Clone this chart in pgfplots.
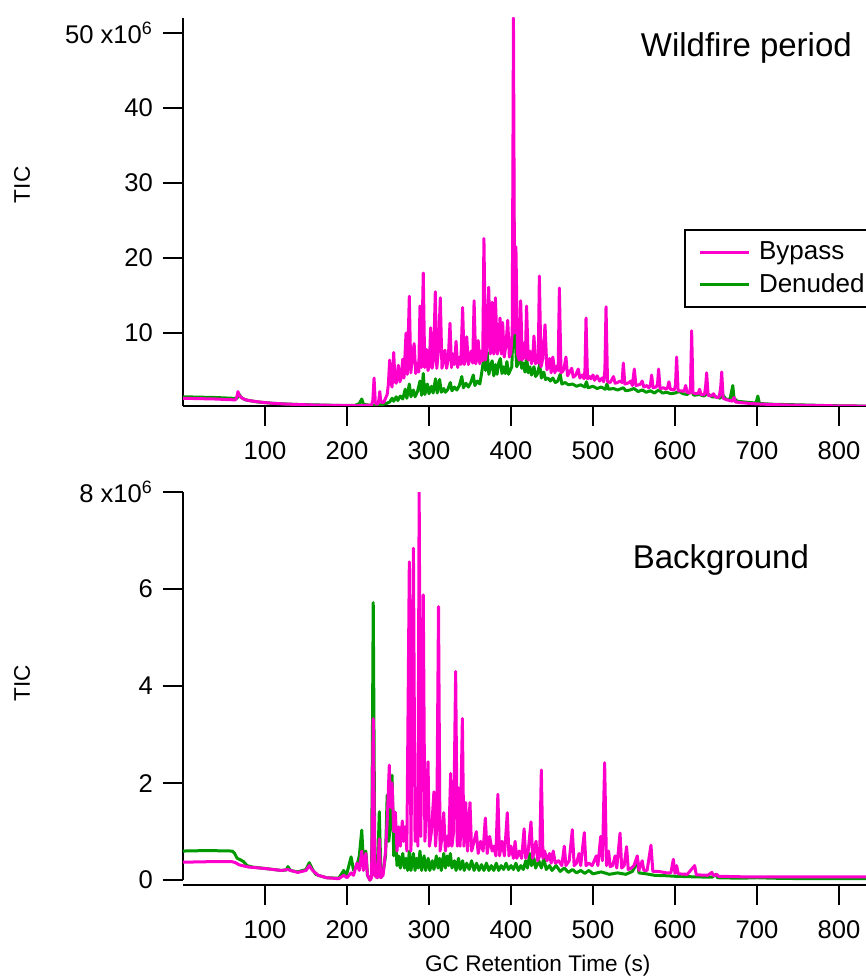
\documentclass[border=0pt]{standalone}
\usepackage{fontspec}
\setmainfont{Liberation Sans}
\usepackage{pgfplots}
\pgfplotsset{compat=1.18}

\definecolor{bypass}{RGB}{255,0,204}
\definecolor{denuded}{RGB}{0,153,0}

\pgfplotsset{
  chrom/.style={
    scale only axis, width=348.5pt,
    xmin=0, xmax=850,
    axis x line*=bottom, axis y line*=left,
    axis line style={line width=1.1pt, -},
    tick align=outside, major tick length=10pt,
    major tick style={line width=1.1pt, black},
    xtick={100,200,...,800},
    /pgf/number format/assume math mode=true,
    ticklabel style={font=\fontsize{12.8}{15}\selectfont},
    label style={font=\fontsize{11.3}{13}\selectfont},
    xticklabel style={yshift=-4.5pt},
    yticklabel style={xshift=-1.5pt},
    scaled y ticks=false,
  },
  trace/.style={line width=1.5pt, line join=round, forget plot},
}

\begin{document}
\begin{tikzpicture}

% ---------------- Wildfire period ----------------
\begin{axis}[chrom,
  at={(0,0)}, anchor=south west,
  height=194pt,
  ymin=0.27, ymax=52,
  ytick={10,20,30,40,50},
  yticklabels={10,20,30,40,{50 x10\textsuperscript{6}}},
  ylabel={TIC},
  ylabel style={at={(axis description cs:-0.231,0.57)}, anchor=center},
  legend cell align=left,
  legend image code/.code={\path[draw=none] (-4.5pt,0pt) (27.5pt,0pt);
    \draw[#1] (0pt,0pt) -- (24.5pt,0pt);},
  legend style={at={(axis cs:611,23.9)}, anchor=north west,
    draw=black, line width=1pt, inner xsep=3pt, inner ysep=4pt,
    row sep=1.5pt,
    font=\fontsize{13}{15.5}\selectfont},
]
\addlegendimage{bypass, line width=1.5pt}
\addlegendentry{Bypass}
\addlegendimage{denuded, line width=1.5pt}
\addlegendentry{Denuded}

% denuded trace
\addplot[trace, denuded] coordinates {
(0,1.5)(20,1.45)(40,1.4)(60,1.3)(66,1.3)(68,1.9)(71,1.4)(76,1.1)(90,0.82)(110,0.62)(140,0.47)(180,0.37)
(210,0.35)(215,0.6)(218,1.2)(220,0.5)(228,0.36)(240,0.4)(248,0.6)(252,0.8)(255,1.3)(257,0.9)(260,1.5)
(262,1.0)(265,1.6)(268,1.2)(271,2.5)(273,1.3)(276,3.2)(278,1.5)(281,2.4)(283,1.5)(286,2.2)(289,3.6)
(291,1.7)(293,4.6)(295,1.8)(298,3.2)(300,1.9)(303,2.9)(305,2.0)(308,3.9)(310,2.0)(313,3.8)(315,2.1)
(318,2.6)(320,2.1)(323,2.5)(326,3.4)(328,2.3)(331,2.8)(334,2.4)(337,3.0)(340,4.2)(342,2.7)(345,3.3)
(348,2.8)(351,3.4)(354,4.4)(356,3.0)(359,3.6)(362,3.2)(364,4.5)(366,6.0)(367.5,9.0)(369,5.0)(371,7.5)
(373,4.5)(375,5.5)(377,6.3)(379,4.3)(381,5.8)(383,4.5)(385,6.0)(387,6.6)(389,4.6)(391,5.5)(393,4.6)
(395,6.2)(397,4.5)(399,5.0)(401,5.5)(402,9.0)(403,33)(404,12)(405.5,8.5)(407,5.5)(409,6.0)(411,8.5)
(413,5.3)(415,6.0)(417,4.8)(419,6.8)(421,4.7)(423,5.5)(425,4.4)(428,5.5)(430,4.2)(432,4.5)(435,5.8)
(437,4.0)(440,4.8)(442,3.8)(445,4.0)(448,3.6)(451,4.0)(454,3.4)(457,3.6)(460,4.5)(462,3.2)(466,3.4)
(470,3.1)(475,3.2)(480,2.9)(485,3.1)(490,2.8)(492,3.5)(494,2.7)(500,2.9)(505,2.6)(510,2.8)(515,2.5)
(517,3.2)(519,2.5)(525,2.6)(530,2.4)(537,2.7)(540,2.3)(545,2.4)(550,2.6)(555,2.2)(560,2.4)(565,2.1)
(570,2.3)(575,2.0)(580,2.4)(585,2.0)(590,2.1)(595,1.9)(600,2.0)(605,2.2)(610,1.9)(615,1.8)(620,2.3)
(623,1.7)(630,1.8)(635,1.6)(640,1.9)(645,1.5)(650,1.5)(655,1.3)(658,1.8)(662,1.2)(667,1.1)(669,2.2)
(670.5,3.0)(672,1.3)(676,0.9)(685,0.8)(695,0.7)(699,0.7)(701,1.6)(703,0.6)(720,0.5)(740,0.45)
(760,0.4)(780,0.34)(800,0.3)(830,0.26)(860,0.23)
};

% bypass trace
\addplot[trace, bypass] coordinates {
(0,1.3)(20,1.25)(40,1.2)(60,1.1)(64,1.1)(66,1.6)(67,2.2)(68.5,1.7)(71,1.4)(75,1.15)(80,1.0)(90,0.85)
(100,0.72)(110,0.63)(125,0.53)(140,0.47)(160,0.4)(180,0.36)(200,0.32)(212,0.3)(220,0.34)(226,0.38)
(230,0.4)(231.5,1.0)(233,4.0)(234.5,0.8)(236,0.5)(238,0.6)(239,1.2)(240,2.2)(241,1.0)(243,0.7)(245,0.8)
(247,1.3)(249,1.8)(250.5,3.2)(252,6.4)(253.5,3.3)(255,2.8)(257,7.4)(258.5,3.6)(260,3.3)(262.6,5.7)
(264.5,3.5)(266,4.0)(268,6.5)(269.5,4.0)(272,10.0)(273.5,4.5)(276,14.9)(277.8,4.7)(279.5,6.5)(281.9,8.6)
(283.8,4.6)(286,6.0)(287.5,4.8)(289,13.6)(290.8,5.4)(293,18.0)(294.8,5.4)(297,7.8)(298.8,5.0)(300.5,5.8)
(302,10.7)(303.8,5.3)(305.5,6.4)(307.7,15.5)(309.5,5.3)(311.5,7.6)(313.8,14.7)(315.8,5.3)(317.5,6.2)
(319.5,7.7)(321.5,5.3)(323.5,6.5)(325.6,11.3)(327.5,5.4)(329.5,7.2)(331.2,5.8)(333,8.9)(335,5.4)(337,6.8)
(338.8,5.8)(341,13.4)(343,5.8)(344.5,6.8)(346,9.5)(348,5.8)(349.8,6.5)(351.5,7.6)(353.3,6.0)(355,14.3)
(357,5.9)(358.5,6.6)(360,9.0)(362,5.9)(364,7.6)(365.5,6.3)(367,22.6)(369,6.4)(371,8.6)(372.8,16.1)
(374.8,7.2)(377,14.1)(379,7.2)(381,14.7)(383.3,7.2)(385,8.5)(386.6,12.0)(388.2,7.2)(389.8,11.4)(391.8,6.8)
(394,8.6)(396,11.7)(398,6.8)(399.8,7.4)(401.5,10.0)(403,52)(404.5,10.0)(406,21.5)(408,7.2)(410,6.4)
(411.8,14.3)(413.8,6.4)(415.8,8.6)(417.5,6.6)(419,13.6)(421,6.4)(423,7.6)(425,5.9)(426.5,6.6)(428,9.6)
(430,5.9)(432,6.6)(433.2,6.0)(434.6,17.6)(436.6,5.5)(438.8,6.6)(441.5,11.1)(443.8,5.1)(445.5,5.6)(447,6.6)
(449,4.7)(451,6.8)(453.5,4.7)(456,5.6)(457.5,5.0)(459,16.0)(461,4.7)(463,4.9)(464.5,5.2)(467,6.8)(469,4.3)
(471.5,4.8)(474,5.3)(476,4.1)(479,4.4)(482,5.2)(484,4.0)(487,4.4)(489,3.9)(490.2,5.0)(491.5,12.0)(493.3,3.9)
(496,4.2)(497.5,3.9)(500,4.4)(502,3.7)(505,4.3)(508,3.6)(511,4.0)(513,3.5)(514.5,5.0)(515.9,13.5)(517.7,3.5)
(521,3.4)(523,3.8)(525,4.2)(527,3.3)(530,3.4)(533,3.6)(535.5,3.4)(537,6.0)(538.8,3.2)(542,3.3)(544,3.4)
(546,3.6)(548,3.0)(550.4,5.2)(552.4,3.0)(556,3.1)(558,3.2)(560,3.6)(562,2.8)(566,3.0)(568,2.7)(570,3.0)
(571.5,4.4)(573.3,2.7)(577,2.8)(578.7,3.2)(580,5.2)(581.8,2.6)(586,2.7)(589,2.5)(591,2.7)(592.6,3.5)
(594.5,2.5)(599,2.4)(600.6,3.0)(602,6.8)(603.8,2.3)(608,2.3)(610,2.2)(611.5,2.4)(613,3.0)(614.6,2.1)
(618,2.0)(619,3.0)(620.3,10.3)(622,2.0)(626,1.9)(628.5,2.0)(630,2.5)(631.7,1.8)(636,1.8)(637.3,2.8)
(638.6,4.7)(640.4,1.7)(644,1.6)(647,1.9)(649,1.5)(652,1.4)(654,1.5)(655.7,2.7)(657,4.8)(658.7,1.3)
(663,1.1)(667,1.0)(670,0.9)(672,1.4)(673.8,0.8)(680,0.72)(690,0.62)(700,0.55)(720,0.46)(740,0.4)
(760,0.36)(780,0.32)(800,0.29)(830,0.26)(860,0.23)
};

\node[font=\fontsize{16.5}{20}\selectfont] at (axis cs:687,48) {Wildfire period};
\end{axis}

% ---------------- Background ----------------
\begin{axis}[chrom,
  at={(0,-239.5pt)}, anchor=south west,
  height=196.5pt,
  ymin=-0.1, ymax=8,
  y axis line style={shorten <=2.4pt},
  ytick={0,2,4,6,8},
  yticklabels={0,2,4,6,{8 x10\textsuperscript{6}}},
  ylabel={TIC},
  ylabel style={at={(axis description cs:-0.231,0.514)}, anchor=center},
  xlabel={GC Retention Time (s)},
  xlabel style={at={(axis description cs:0.509,-0.204)}, anchor=center},
]
% denuded trace
\addplot[trace, denuded] coordinates {
(0,0.6)(30,0.61)(60,0.6)(63,0.55)(66,0.45)(70,0.42)(74,0.38)(78,0.3)(85,0.27)(100,0.24)(120,0.2)
(126,0.21)(128,0.28)(131,0.2)(140,0.17)(150,0.22)(154,0.36)(158,0.22)(162,0.12)(165,0.1)(175,0.05)
(190,0.04)(196,0.2)(199,0.08)(205,0.48)(208,0.2)(212,0.3)(215,0.5)(218,1.03)(220,0.4)(223,0.6)(225,0.1)
(228,0.0)(230,0.1)(232,5.72)(234,0.1)(237,0.05)(239.4,1.41)(241.5,0.05)(244,0.15)(247,0.5)(249,1.75)
(251,0.8)(253,1.2)(255,2.16)(257,0.5)(259,0.9)(261,0.3)(263,0.5)(265,0.25)(268,0.55)(270,0.25)(272,0.45)
(274,0.2)(276,0.6)(278,0.2)(281,0.55)(283,0.2)(285,0.45)(287,0.25)(289,0.6)(291,0.2)(294,0.5)(296,0.2)
(299,0.45)(301,0.2)(304,0.4)(306,0.22)(309,0.5)(311,0.25)(313,0.45)(315,0.2)(318,0.55)(320,0.25)(322,0.5)
(324,0.3)(326,0.55)(328,0.25)(331,0.4)(333,0.2)(336,0.45)(338,0.22)(341,0.4)(343,0.2)(346,0.35)(349,0.22)
(352,0.4)(355,0.2)(358,0.35)(361,0.2)(364,0.32)(367,0.2)(370,0.35)(373,0.2)(376,0.3)(379,0.2)(382,0.35)
(385,0.2)(388,0.3)(391,0.22)(394,0.35)(397,0.22)(400,0.3)(403,0.22)(406,0.35)(409,0.2)(412,0.3)(415,0.22)
(418,0.4)(420,0.25)(423,0.55)(425,0.3)(428,0.45)(430,0.25)(434,0.4)(437,0.25)(440,0.45)(443,0.22)(447,0.3)
(450,0.2)(455,0.3)(460,0.18)(465,0.25)(470,0.16)(475,0.22)(480,0.15)(485,0.2)(490,0.14)(495,0.2)(500,0.13)
(510,0.17)(520,0.12)(530,0.15)(540,0.12)(548,0.18)(552,0.3)(554,0.47)(556,0.15)(565,0.13)(575,0.1)
(590,0.09)(600,0.08)(620,0.07)(645,0.06)(650,0.12)(652,0.05)(680,0.04)(700,0.05)(720,0.04)(760,0.03)
(860,0.03)
};

% bypass trace
\addplot[trace, bypass] coordinates {
(0,0.37)(30,0.38)(60,0.38)(64,0.36)(68,0.32)(72,0.3)(80,0.27)(100,0.24)(120,0.2)(128,0.22)(131,0.2)
(140,0.16)(150,0.2)(154,0.3)(158,0.2)(165,0.1)(175,0.05)(190,0.03)(196,0.1)(200,0.05)(205,0.15)(208,0.1)
(212,0.35)(215,0.2)(218,0.6)(220,0.2)(223,0.55)(225,0.1)(228,0.0)(230,0.05)(232,3.33)(234,0.1)(237,0.05)
(239.4,0.85)(241,0.05)(244,0.1)(247,0.6)(249,1.2)(251.6,2.37)(253,1.5)(255,2.0)(257,1.0)(259,1.4)(261,0.6)
(263,1.1)(265,0.7)(267.5,1.22)(269,0.8)(271,1.1)(273,0.6)(276,6.56)(278,0.6)(281,6.84)(283,0.8)(285,1.2)
(286.5,0.7)(288,7.99)(290,0.9)(293,5.88)(295,0.8)(296.5,1.4)(298.8,2.44)(300.5,0.7)(303,1.0)(306,1.82)
(308,0.7)(309.5,1.1)(311.6,5.64)(313.5,0.6)(316,0.9)(318,1.39)(320,0.6)(322,0.9)(324,0.7)(326.4,2.2)
(328,0.7)(330,1.0)(332.5,4.30)(334.5,0.7)(336,1.9)(338,0.7)(340.7,3.33)(342.5,0.7)(344.8,1.6)(347,0.6)
(350,1.6)(352,0.6)(355,0.8)(357.7,1.0)(360,0.55)(363,0.8)(366,0.6)(368.7,1.28)(371,0.55)(374,0.9)(377,0.6)
(379,0.7)(381.5,0.5)(384,1.77)(386,0.5)(389,0.8)(392,0.5)(395.5,1.39)(397.5,0.5)(400,0.7)(403,0.45)
(405,0.8)(407,0.45)(410,0.6)(413,0.45)(416,1.06)(418,0.45)(421,0.6)(424.4,1.2)(426.5,0.45)(430.5,0.8)
(432.5,0.4)(435,0.5)(437,2.27)(439,0.45)(441,0.6)(444,0.4)(447,0.55)(449,0.35)(451.5,0.6)(454,0.35)
(458,0.4)(462,0.3)(465,0.7)(467,0.3)(471,0.4)(474.8,1.04)(477,0.3)(480,0.35)(483,0.55)(485,0.3)
(489.4,0.98)(491.5,0.3)(495,0.35)(499,0.3)(504,0.5)(506,0.3)(509.4,0.9)(511.5,0.4)(514.2,2.42)(516.5,0.3)
(519,0.6)(521,0.28)(524,0.3)(527,0.5)(529,0.25)(533,0.97)(535,0.25)(538,0.3)(541,0.69)(543,0.22)(547,0.25)
(550,0.3)(554,0.5)(556,0.2)(560,0.4)(562,0.2)(566,0.2)(570.7,0.72)(573,0.18)(580,0.18)(590,0.15)(595,0.15)
(598,0.43)(600,0.14)(602,0.3)(604,0.13)(615,0.12)(624,0.3)(626,0.11)(640,0.1)(645,0.16)(647,0.09)
(651,0.12)(653,0.08)(680,0.07)(720,0.07)(760,0.07)(800,0.07)(860,0.07)
};

\node[font=\fontsize{16.5}{20}\selectfont] at (axis cs:656,6.6) {Background};
\end{axis}

\pgfresetboundingbox
\useasboundingbox (-91.5pt,-286.5pt) rectangle (341.5pt,203pt);
\end{tikzpicture}
\end{document}
